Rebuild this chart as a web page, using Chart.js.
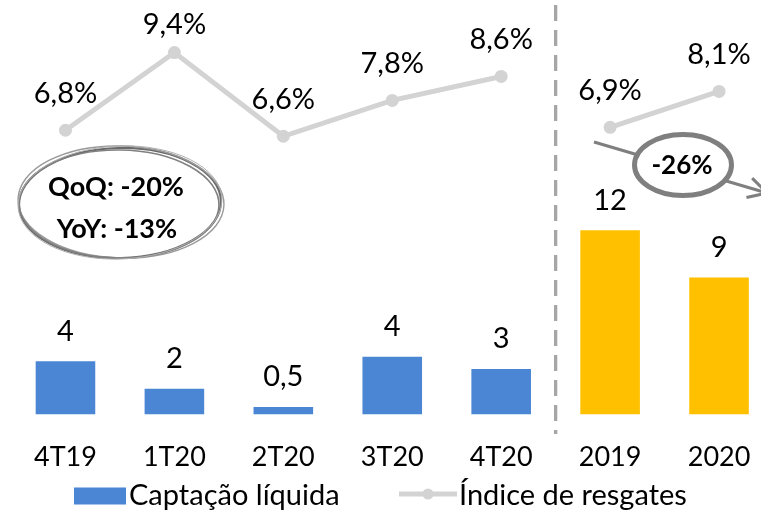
<!DOCTYPE html>
<html>
<head>
<meta charset="utf-8">
<script src="https://cdn.jsdelivr.net/npm/chart.js@4"></script>
<style>
html,body{margin:0;padding:0;background:#fff;overflow:hidden;}
#wrap{width:780px;height:514px;}
</style>
</head>
<body>
<div id="wrap"><canvas id="c" width="780" height="514"></canvas></div>
<script>
// ---- data ----
const categories = ['4T19', '1T20', '2T20', '3T20', '4T20', '2019', '2020'];
const captacao = [3.5, 1.7, 0.5, 3.8, 3.0, 12.1, 9.0];          // bar heights as drawn
const captacaoLabels = ['4', '2', '0,5', '4', '3', '12', '9'];    // labels as printed
const resgates = [6.8, 9.4, 6.6, 7.8, 8.6, 6.9, 8.1];
const resgatesLabels = ['6,8%', '9,4%', '6,6%', '7,8%', '8,6%', '6,9%', '8,1%'];
const quarterCount = 5;
const noteQuarter = ['QoQ: -20%', 'YoY: -13%'];
const noteYear = '-26%';

const FONT = 'Lato, "Open Sans", sans-serif';
const BLUE = '#4a86d4', YELLOW = '#ffc000', LINEGRAY = '#d3d3d3';

const labelPlugin = {
  id: 'labels',
  afterDatasetsDraw(chart) {
    const ctx = chart.ctx;
    ctx.save();
    ctx.fillStyle = '#000';
    ctx.font = '29px ' + FONT;
    ctx.textAlign = 'center';
    ctx.textBaseline = 'middle';
    const barMeta = chart.getDatasetMeta(0);
    barMeta.data.forEach((el, i) => ctx.fillText(captacaoLabels[i], el.x, el.y - 30));
    const lineMeta = chart.getDatasetMeta(1);
    lineMeta.data.forEach((el, i) => ctx.fillText(resgatesLabels[i], el.x, Math.max(el.y - 37, 25)));
    ctx.restore();
  }
};

const annotationPlugin = {
  id: 'annot',
  afterDraw(chart) {
    const ctx = chart.ctx;
    const xs = chart.scales.x;
    ctx.save();
    // dashed separator between quarters and years
    const sepX = (xs.getPixelForValue(quarterCount - 1) + xs.getPixelForValue(quarterCount)) / 2;
    ctx.strokeStyle = '#a6a6a6';
    ctx.lineWidth = 3.3;
    ctx.setLineDash([16, 9]);
    ctx.beginPath();
    ctx.moveTo(sepX, 5);
    ctx.lineTo(sepX, 434);
    ctx.stroke();
    ctx.setLineDash([]);

    // sketchy ellipse QoQ / YoY
    const rings = [
      [120, 203, 101, 55, -0.02, 2.2, '#6a6a6a'],
      [121, 202, 103, 56, 0.03, 1.4, '#9a9a9a'],
      [119, 204, 100, 54, 0.01, 1.6, '#808080'],
      [120, 202.5, 102, 56.5, -0.04, 1.0, '#b0b0b0']
    ];
    rings.forEach(r => {
      ctx.beginPath();
      ctx.strokeStyle = r[6];
      ctx.lineWidth = r[5];
      ctx.ellipse(r[0], r[1], r[2], r[3], r[4], 0, Math.PI * 2);
      ctx.stroke();
    });
    ctx.fillStyle = '#000';
    ctx.font = 'bold 27px ' + FONT;
    ctx.textAlign = 'center';
    ctx.textBaseline = 'middle';
    ctx.fillText(noteQuarter[0], 116, 187);
    ctx.fillText(noteQuarter[1], 117, 229);

    // arrow through -26% ellipse
    const tipX = 767, tipY = 193;
    ctx.strokeStyle = '#7f7f7f';
    ctx.lineWidth = 3;
    ctx.beginPath();
    ctx.moveTo(594, 142);
    ctx.lineTo(tipX, tipY);
    ctx.stroke();
    const ang = Math.atan2(tipY - 142, tipX - 594);
    ctx.beginPath();
    ctx.moveTo(tipX - 21 * Math.cos(ang - 0.5), tipY - 21 * Math.sin(ang - 0.5));
    ctx.lineTo(tipX, tipY);
    ctx.lineTo(tipX - 21 * Math.cos(ang + 0.5), tipY - 21 * Math.sin(ang + 0.5));
    ctx.stroke();

    ctx.beginPath();
    ctx.ellipse(683, 165, 48.5, 30.5, 0, 0, Math.PI * 2);
    ctx.fillStyle = '#fff';
    ctx.fill();
    ctx.lineWidth = 5;
    ctx.strokeStyle = '#7f7f7f';
    ctx.stroke();
    ctx.fillStyle = '#000';
    ctx.font = 'bold 26px ' + FONT;
    ctx.fillText(noteYear, 682, 166);

    // legend
    const ds = chart.data.datasets;
    const ly = 496;
    ctx.fillStyle = BLUE;
    ctx.fillRect(74, 487.5, 52, 17);
    ctx.fillStyle = '#000';
    ctx.font = '29px ' + FONT;
    ctx.textAlign = 'left';
    ctx.fillText(ds[0].label, 129, ly);
    ctx.strokeStyle = LINEGRAY;
    ctx.lineWidth = 5;
    ctx.beginPath();
    ctx.moveTo(399, 494);
    ctx.lineTo(457, 494);
    ctx.stroke();
    ctx.fillStyle = LINEGRAY;
    ctx.beginPath();
    ctx.arc(428, 494, 5.5, 0, Math.PI * 2);
    ctx.fill();
    ctx.fillStyle = '#000';
    ctx.fillText(ds[1].label, 459, ly);
    ctx.restore();
  }
};

new Chart(document.getElementById('c'), {
  type: 'bar',
  data: {
    labels: categories,
    datasets: [
      {
        type: 'bar',
        label: 'Captação líquida',
        data: captacao,
        yAxisID: 'y',
        backgroundColor: ctx => ctx.dataIndex < quarterCount ? BLUE : YELLOW,
        categoryPercentage: 1,
        barPercentage: 0.547,
        order: 2
      },
      {
        type: 'line',
        label: 'Índice de resgates',
        data: resgates,
        yAxisID: 'y2',
        borderColor: LINEGRAY,
        borderWidth: 5,
        pointRadius: 6.5,
        pointBackgroundColor: LINEGRAY,
        pointBorderWidth: 0,
        segment: {
          borderColor: c => c.p0DataIndex === quarterCount - 1 ? 'rgba(0,0,0,0)' : LINEGRAY
        },
        order: 1
      }
    ]
  },
  options: {
    responsive: false,
    animation: false,
    devicePixelRatio: 1,
    layout: { padding: { left: 11, right: 1, top: 0, bottom: 15 } },
    plugins: { legend: { display: false }, tooltip: { enabled: false } },
    scales: {
      x: {
        grid: { display: false, drawTicks: false },
        border: { display: false },
        ticks: { color: '#000', font: { family: FONT, size: 27 }, padding: 26, maxRotation: 0, autoSkip: false }
      },
      y: { display: false, min: 0, max: 26.8 },
      y2: { display: false, min: -2.71, max: 10.94 }
    }
  },
  plugins: [labelPlugin, annotationPlugin]
});
</script>
</body>
</html>
